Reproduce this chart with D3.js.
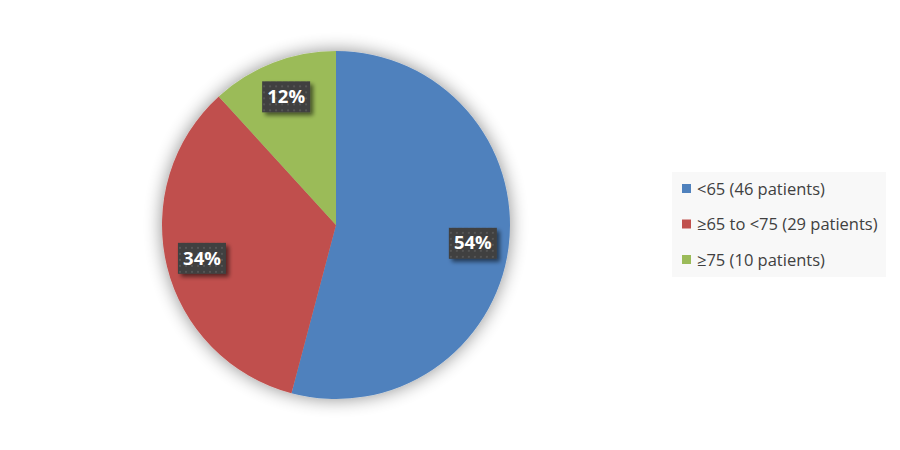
<!DOCTYPE html>
<html>
<head>
<meta charset="utf-8">
<script src="https://cdn.jsdelivr.net/npm/d3@7"></script>
<style>
  body { margin: 0; background: #fff; }
  svg { display: block; font-family: "Open Sans", "Noto Sans", sans-serif; }
</style>
</head>
<body>
<svg width="900" height="450"></svg>
<script>
// data
var groups = ["<65", "≥65 to <75", "≥75"];
var patients = [46, 29, 10];
var percentLabels = ["54%", "34%", "12%"];
var legendLabels = ["<65 (46 patients)", "≥65 to <75 (29 patients)", "≥75 (10 patients)"];
var colors = ["#4f81bd", "#c0504d", "#9bbb59"];

var svg = d3.select("svg");
var cx = 336, cy = 225, radius = 174;

var defs = svg.append("defs");

// soft shadow round the pie
var sh = defs.append("filter").attr("id", "pieShadow")
    .attr("x", "-25%").attr("y", "-25%").attr("width", "150%").attr("height", "150%");
sh.append("feGaussianBlur").attr("in", "SourceAlpha").attr("stdDeviation", 9).attr("result", "b");
sh.append("feComponentTransfer").attr("in", "b").attr("result", "b2")
  .append("feFuncA").attr("type", "linear").attr("slope", 0.45);
var m1 = sh.append("feMerge");
m1.append("feMergeNode").attr("in", "b2");
m1.append("feMergeNode").attr("in", "SourceGraphic");

// shadow for label boxes
var ls = defs.append("filter").attr("id", "labelShadow")
    .attr("x", "-30%").attr("y", "-30%").attr("width", "170%").attr("height", "170%");
ls.append("feGaussianBlur").attr("in", "SourceAlpha").attr("stdDeviation", 2).attr("result", "b");
ls.append("feOffset").attr("in", "b").attr("dx", 3).attr("dy", 3).attr("result", "o");
ls.append("feComponentTransfer").attr("in", "o").attr("result", "o2")
  .append("feFuncA").attr("type", "linear").attr("slope", 0.55);
var m2 = ls.append("feMerge");
m2.append("feMergeNode").attr("in", "o2");
m2.append("feMergeNode").attr("in", "SourceGraphic");

// dotted texture for label boxes
var pat = defs.append("pattern").attr("id", "dots")
    .attr("width", 6).attr("height", 6).attr("patternUnits", "userSpaceOnUse");
pat.append("rect").attr("width", 6).attr("height", 6).attr("fill", "#3f3f3f");
pat.append("rect").attr("x", 1).attr("y", 1).attr("width", 2).attr("height", 2).attr("fill", "#555");

var pie = d3.pie().sort(null).value(function(d) { return d; });
var arcs = pie(patients);

var arc = d3.arc().innerRadius(0).outerRadius(radius);
var labelArc = d3.arc().innerRadius(138).outerRadius(138);

var g = svg.append("g").attr("transform", "translate(" + cx + "," + cy + ")");

g.append("g").attr("filter", "url(#pieShadow)")
  .selectAll("path")
  .data(arcs)
  .enter()
  .append("path")
  .attr("d", arc)
  .attr("fill", function(d, i) { return colors[i]; });

var labels = g.selectAll(".lbl")
  .data(arcs)
  .enter()
  .append("g")
  .attr("class", "lbl")
  .attr("transform", function(d) { return "translate(" + labelArc.centroid(d) + ")"; });

labels.append("rect")
  .attr("x", -24).attr("y", -15)
  .attr("width", 48).attr("height", 31)
  .attr("fill", "url(#dots)")
  .attr("filter", "url(#labelShadow)");

labels.append("text")
  .attr("text-anchor", "middle")
  .attr("dy", "0.36em")
  .attr("fill", "#fff")
  .attr("font-weight", "bold")
  .attr("font-size", 18.5)
  .text(function(d, i) { return percentLabels[i]; });

// legend
var legend = svg.append("g").attr("transform", "translate(672,172)");
legend.append("rect").attr("width", 214).attr("height", 105).attr("fill", "#f8f8f8");

var rowY = d3.scalePoint().domain(groups).range([17, 88]);

var rows = legend.selectAll(".row")
  .data(groups)
  .enter()
  .append("g")
  .attr("class", "row")
  .attr("transform", function(d) { return "translate(0," + rowY(d) + ")"; });

rows.append("rect")
  .attr("x", 10).attr("y", -5)
  .attr("width", 9).attr("height", 9)
  .attr("fill", function(d, i) { return colors[i]; });

rows.append("text")
  .attr("x", 25)
  .attr("dy", "0.35em")
  .attr("font-size", 16.5)
  .attr("fill", "#404040")
  .text(function(d, i) { return legendLabels[i]; });
</script>
</body>
</html>
